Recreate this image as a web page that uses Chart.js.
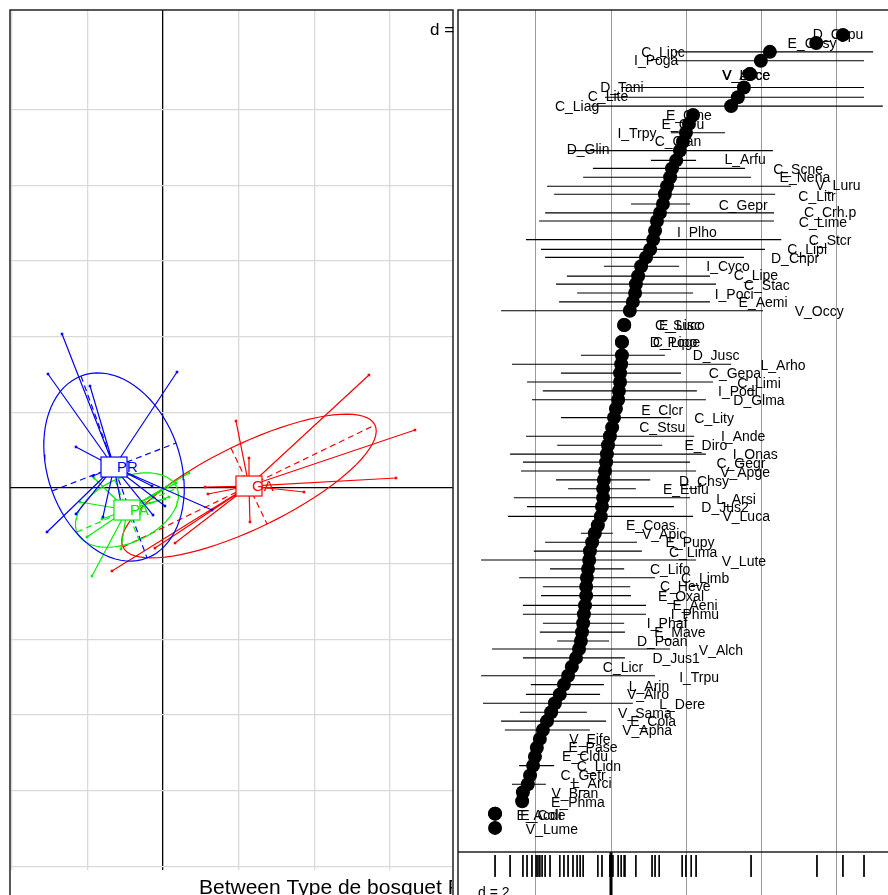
<!DOCTYPE html>
<html>
<head>
<meta charset="utf-8">
<script src="https://cdn.jsdelivr.net/npm/chart.js@4.4.0/dist/chart.umd.min.js"></script>
<style>
  body { margin: 0; background: #fff; width: 888px; height: 895px; overflow: hidden; position: relative; }
  #left { position: absolute; left: 9px; top: 9px; }
  #right { position: absolute; left: 455px; top: 0; }
</style>
</head>
<body>
<canvas id="left" width="446" height="886"></canvas>
<canvas id="right" width="433" height="895"></canvas>
<script>
// ---- left panel: between-group scores, one star + ellipse per group ----
const groupNames = ['PR', 'PA', 'GA'];
const groupColors = ['#0000ff', '#00ee00', '#ff0000'];
const groupCenters = [[-0.647, 0.277], [-0.476, -0.291], [1.136, 0.026]];
const prPoints = [[-1.334, 2.034], [-1.519, 1.506], [-0.964, 1.347], [0.185, 1.532], [-1.149, 0.542],
  [-0.925, 0.159], [-0.145, 0.026], [0.026, -0.238], [-0.132, -0.357], [0.647, -0.291],
  [-1.149, -0.343], [-0.793, -0.383], [-1.532, -0.581], [-0.555, -0.198]];
const paPoints = [[0.343, 0.198], [0.172, 0.066], [0.079, -0.119], [-0.172, -0.198], [-0.911, 0.132],
  [-1.096, -0.185], [-0.806, -0.410], [-1.004, -0.647], [-0.555, -0.806], [-0.938, -1.162], [0.026, -0.145]];
const gaPoints = [[2.721, 1.493], [3.329, 0.766], [3.078, 0.132], [1.863, -0.053], [1.136, 0.396],
  [0.964, 0.885], [1.149, -0.449], [0.555, 0.013], [0.594, -0.079], [0.159, -0.727],
  [-0.106, -0.793], [-0.674, -1.096]];
// ellipse half axes (major vector, minor vector) for each group
const groupAxes = [
  [[0.436, -1.202], [0.819, 0.317]],
  [[0.661, 0.291], [0.159, -0.396]],
  [[1.664, 0.806], [0.238, -0.502]]
];

// ---- right panel: species scores, ranges and labels ----
const species = ['D_Cypu','E_Cosy','C_Lipc','I_Poga','V_Acce','V_Loce','D_Tani','C_Lite','C_Liag','E_Cine',
  'E_Ciru','I_Trpy','C_Clan','D_Glin','L_Arfu','C_Scne','E_Nena','V_Luru','C_Litr','C_Gepr',
  'C_Crh.p','C_Lime','I_Plho','C_Stcr','C_Lipl','D_Chpr','I_Cyco','C_Lipe','C_Stac','I_Poci',
  'E_Aemi','V_Occy','E_Lisc','C_Suco','C_Lipo','D_Poge','D_Jusc','L_Arho','C_Gepa','C_Limi',
  'I_Podi','D_Glma','E_Clcr','C_Lity','C_Stsu','I_Ande','E_Diro','I_Onas','C_Gegr','V_Apge',
  'D_Chsy','E_Eufu','L_Arsi','D_Jus2','V_Luca','E_Coas','V_Apic','E_Pupy','C_Lima','V_Lute',
  'C_Lifo','C_Limb','C_Heve','E_Oxal','E_Aeni','I_Phmu','I_Phaf','E_Mave','D_Poan','V_Alch',
  'D_Jus1','C_Licr','I_Trpu','L_Arin','V_Alro','L_Dere','V_Sama','E_Cola','V_Apha','V_Eife',
  'E_Pase','E_Cldu','C_Lidn','C_Getr','L_Arci','V_Bran','E_Phma','E_Acde','E_Coli','V_Lume'];
const scores = [6.16,5.45,4.22,3.98,3.69,3.69,3.53,3.37,3.19,2.18,
  2.07,1.99,1.91,1.83,1.73,1.62,1.57,1.49,1.43,1.38,
  1.30,1.22,1.17,1.12,1.04,0.93,0.80,0.72,0.66,0.64,
  0.58,0.50,0.35,0.35,0.29,0.29,0.29,0.27,0.24,0.24,
  0.21,0.19,0.13,0.08,0.03,-0.03,-0.08,-0.11,-0.13,-0.16,
  -0.19,-0.21,-0.21,-0.24,-0.27,-0.35,-0.43,-0.50,-0.56,-0.58,
  -0.61,-0.64,-0.66,-0.66,-0.69,-0.72,-0.74,-0.77,-0.80,-0.85,
  -0.93,-1.04,-1.14,-1.25,-1.36,-1.49,-1.59,-1.70,-1.81,-1.89,
  -1.97,-2.02,-2.07,-2.15,-2.21,-2.34,-2.36,-3.08,-3.08,-3.08];
const ranks = [0.1,1.0,2.0,3.0,4.5,4.5,6.0,7.1,8.1,9.1,
  10.1,11.1,12.1,13.1,14.2,15.1,16.1,17.1,18.0,19.1,
  20.1,21.0,22.1,23.1,24.2,25.1,26.1,27.2,28.1,29.1,
  30.1,31.1,32.7,32.7,34.6,34.6,36.1,37.1,38.1,39.1,
  40.1,41.1,42.1,43.1,44.2,45.2,46.2,47.2,48.1,49.1,
  50.1,51.1,52.1,53.1,54.2,55.2,56.1,57.1,58.1,59.1,
  60.1,61.1,62.1,63.1,64.2,65.2,66.2,67.2,68.2,69.1,
  70.1,71.1,72.1,73.1,74.2,75.2,76.2,77.2,78.2,79.2,
  80.2,81.2,82.2,83.3,84.3,85.2,86.2,87.6,87.6,89.2];
const lower = [null,null,1.70,1.70,null,null,0.27,-0.16,-0.53,null,
  null,1.59,null,-1.14,1.06,-0.48,-0.74,-1.70,-1.51,0.53,
  -1.75,-1.91,null,-2.26,-1.86,-1.75,-0.19,-1.17,-1.46,-0.90,
  -1.38,-2.92,null,null,null,null,-0.80,-2.63,-1.33,-2.23,
  -1.81,-2.10,null,-1.33,null,-2.26,-1.43,-2.68,-2.34,-2.39,
  -1.46,-1.14,-2.58,-2.23,-2.74,null,-0.80,-1.75,-2.05,-3.45,
  -1.62,-2.44,-1.81,-1.86,-2.34,-2.34,-1.81,-1.89,-1.43,-3.16,
  -2.34,null,-3.45,-2.13,-2.26,-3.40,-2.42,-2.92,-2.82,null,
  null,null,-2.44,null,-2.63,null,null,null,null,null];
const upper = [null,null,6.96,6.72,null,null,6.72,6.72,7.22,null,
  null,3.03,null,4.30,2.26,3.56,3.72,4.78,4.36,2.10,
  4.33,4.33,null,4.52,4.09,3.53,1.81,2.63,2.79,2.18,
  2.63,4.04,null,null,null,null,1.43,3.19,1.86,2.71,
  2.28,2.52,null,1.59,null,2.21,1.36,2.52,2.10,2.26,
  1.04,0.66,2.10,1.67,2.18,null,0.05,0.69,0.82,2.26,
  0.35,1.17,0.51,0.53,0.93,0.93,0.35,0.37,-0.05,1.57,
  0.37,null,1.17,-0.19,-0.29,0.58,-0.64,-0.13,-0.56,null,
  null,null,-1.51,null,-1.73,null,null,null,null,null];
const labelX = [6.03,5.34,1.38,1.20,3.59,3.59,0.29,-0.08,-0.90,2.07,
  1.91,0.69,1.78,-0.61,3.56,4.97,5.15,6.03,5.47,3.51,
  5.82,5.63,2.28,5.82,5.21,4.89,3.11,3.85,4.14,3.27,
  4.04,5.53,1.83,1.83,1.70,1.70,2.79,4.57,3.29,3.93,
  3.37,3.93,1.36,2.74,1.36,3.51,2.52,3.83,3.45,3.56,
  2.47,1.99,3.32,3.03,3.59,1.06,1.41,2.10,2.18,3.53,
  1.57,2.50,1.97,1.86,2.23,2.23,1.49,1.83,1.36,2.92,
  1.73,0.32,2.34,1.01,0.98,1.89,0.90,1.12,0.96,-0.56,
  -0.48,-0.69,-0.32,-0.74,-0.51,-0.96,-0.88,-1.86,-1.86,-1.57];
const labelY = [0.1,1.1,2.1,3.1,4.7,4.7,6.1,7.1,8.2,9.2,
  10.2,11.2,12.2,13.0,14.2,15.3,16.2,17.1,18.3,19.3,
  20.1,21.2,22.4,23.3,24.3,25.3,26.2,27.2,28.3,29.3,
  30.2,31.2,32.8,32.8,34.7,34.7,36.2,37.3,38.2,39.3,
  40.2,41.2,42.4,43.3,44.3,45.3,46.3,47.3,48.3,49.3,
  50.3,51.3,52.4,53.3,54.3,55.3,56.3,57.2,58.3,59.3,
  60.2,61.3,62.2,63.3,64.3,65.3,66.3,67.3,68.3,69.3,
  70.2,71.2,72.4,73.4,74.3,75.4,76.4,77.3,78.3,79.3,
  80.2,81.3,82.4,83.4,84.3,85.4,86.4,87.9,87.9,89.4];
const rugValues = [-3.08,-2.68,-2.34,-2.23,-2.10,-1.99,-1.94,-1.89,-1.83,-1.75,
  -1.62,-1.36,-1.25,-1.14,-1.01,-0.90,-0.82,-0.74,-0.35,-0.24,
  -0.03,0.05,0.19,0.27,0.35,0.37,0.66,1.09,1.17,1.28,
  1.89,1.99,2.13,2.26,3.72,5.47,6.16,6.72];

Chart.defaults.font.family = '"Liberation Sans", Arial, sans-serif';
Chart.defaults.animation = false;

const gap = {x: NaN, y: NaN};
const hidden = {display: false};

// ---------- left chart ----------
function ellipse(c, a, b) {
  const pts = [];
  for (let k = 0; k <= 80; k++) {
    const t = k / 80 * 2 * Math.PI;
    pts.push({x: c[0] + Math.cos(t) * a[0] + Math.sin(t) * b[0], y: c[1] + Math.cos(t) * a[1] + Math.sin(t) * b[1]});
  }
  return pts;
}

const groupPoints = [prPoints, paPoints, gaPoints];
const leftSets = [];
groupNames.forEach((g, i) => {
  const c = groupCenters[i], col = groupColors[i];
  const [a, b] = groupAxes[i];
  const star = [];
  groupPoints[i].forEach(p => { star.push({x: c[0], y: c[1]}, {x: p[0], y: p[1]}, gap); });
  leftSets.push({data: star, showLine: true, borderColor: col, borderWidth: 1.2, pointRadius: 0});
  leftSets.push({data: ellipse(c, a, b), showLine: true, borderColor: col, borderWidth: 1.2, pointRadius: 0});
  leftSets.push({
    data: [{x: c[0] - a[0], y: c[1] - a[1]}, {x: c[0] + a[0], y: c[1] + a[1]}, gap,
           {x: c[0] - b[0], y: c[1] - b[1]}, {x: c[0] + b[0], y: c[1] + b[1]}],
    showLine: true, borderColor: col, borderWidth: 1.2, borderDash: [6, 4], pointRadius: 0
  });
  leftSets.push({data: groupPoints[i].map(p => ({x: p[0], y: p[1]})), pointStyle: 'rect',
    pointRadius: 1.8, backgroundColor: col, borderColor: col, borderWidth: 0});
});

const leftDecor = {
  id: 'leftDecor',
  afterDatasetsDraw(chart) {
    const {ctx, scales: {x, y}} = chart;
    ctx.save();
    ctx.font = '15px "Liberation Sans", Arial, sans-serif';
    ctx.textBaseline = 'middle';
    groupNames.forEach((g, i) => {
      const px = x.getPixelForValue(groupCenters[i][0]);
      const py = y.getPixelForValue(groupCenters[i][1]);
      ctx.fillStyle = '#fff';
      ctx.strokeStyle = groupColors[i];
      ctx.lineWidth = 1.2;
      ctx.fillRect(px - 13, py - 10, 26, 20);
      ctx.strokeRect(px - 13, py - 10, 26, 20);
      ctx.fillStyle = groupColors[i];
      ctx.fillText(g, px + 3, py + 1);
    });
    ctx.restore();
  },
  afterDraw(chart) {
    const {ctx, chartArea: ca} = chart;
    ctx.save();
    ctx.strokeStyle = '#222';
    ctx.lineWidth = 1.5;
    ctx.beginPath();
    ctx.moveTo(ca.left, chart.height); ctx.lineTo(ca.left, ca.top);
    ctx.lineTo(ca.right, ca.top); ctx.lineTo(ca.right, chart.height);
    ctx.stroke();
    ctx.fillStyle = '#000';
    ctx.font = '17px "Liberation Sans", Arial, sans-serif';
    ctx.textBaseline = 'alphabetic';
    ctx.fillText('d = 1', 421, 26);
    ctx.beginPath();
    ctx.rect(0, 0, ca.right - 1, chart.height);
    ctx.clip();
    ctx.font = '21px "Liberation Sans", Arial, sans-serif';
    ctx.fillText('Between Type de bosquet PCA', 190, 885);
    ctx.restore();
  }
};

new Chart(document.getElementById('left'), {
  type: 'scatter',
  data: {datasets: leftSets},
  options: {
    responsive: false,
    layout: {autoPadding: false, padding: {left: 1, top: 1, right: 2, bottom: 25}},
    plugins: {legend: hidden, tooltip: {enabled: false}},
    scales: {
      x: {
        type: 'linear', min: -2.021, max: 3.831,
        ticks: {display: false, stepSize: 1, includeBounds: false},
        grid: {drawTicks: false, color: c => c.tick.value === 0 ? '#000' : '#d9d9d9', lineWidth: 1.3},
        border: hidden
      },
      y: {
        type: 'linear', min: -5.046, max: 6.314,
        ticks: {display: false, stepSize: 1, includeBounds: false},
        afterBuildTicks: axis => { axis.ticks = axis.ticks.filter(t => Math.abs(t.value) <= 5); },
        grid: {drawTicks: false, color: c => c.tick.value === 0 ? '#000' : '#d9d9d9', lineWidth: 1.3},
        border: hidden
      }
    }
  },
  plugins: [leftDecor]
});

// ---------- right chart ----------
const rugTop = 91.9, rugEnd = 94.7, yBottom = 96.74;
const bars = [];
species.forEach((s, i) => {
  if (lower[i] !== null) bars.push({x: lower[i], y: ranks[i]}, {x: upper[i], y: ranks[i]}, gap);
});
const rug = [];
rugValues.forEach(v => { if (v !== 0) rug.push({x: v, y: rugTop + 0.35}, {x: v, y: rugEnd}, gap); });

const rightDecor = {
  id: 'rightDecor',
  beforeDatasetsDraw(chart) {
    const {ctx, scales: {x, y}} = chart;
    ctx.save();
    ctx.font = '14px "Liberation Sans", Arial, sans-serif';
    ctx.fillStyle = '#000';
    ctx.textAlign = 'center';
    ctx.textBaseline = 'middle';
    species.forEach((s, i) => ctx.fillText(s, x.getPixelForValue(labelX[i]), y.getPixelForValue(labelY[i])));
    ctx.restore();
  },
  afterDraw(chart) {
    const {ctx, chartArea: ca, scales: {y}} = chart;
    const sep = y.getPixelForValue(rugTop);
    ctx.save();
    ctx.strokeStyle = '#222';
    ctx.lineWidth = 1.5;
    ctx.beginPath();
    ctx.moveTo(ca.left, chart.height); ctx.lineTo(ca.left, ca.top); ctx.lineTo(ca.right, ca.top);
    ctx.moveTo(ca.left, sep); ctx.lineTo(ca.right, sep);
    ctx.stroke();
    ctx.fillStyle = '#000';
    ctx.font = '14px "Liberation Sans", Arial, sans-serif';
    ctx.fillText('d = 2', 23, 897);
    ctx.restore();
  }
};

new Chart(document.getElementById('right'), {
  type: 'scatter',
  data: {
    datasets: [
      {data: scores.map((v, i) => ({x: v, y: ranks[i]})), pointRadius: 7, backgroundColor: '#000', borderWidth: 0},
      {data: bars, showLine: true, borderColor: '#000', borderWidth: 1.1, pointRadius: 0},
      {data: rug, showLine: true, borderColor: '#000', borderWidth: 1, pointRadius: 0},
      {data: [{x: 0, y: rugTop}, {x: 0, y: yBottom}], showLine: true, borderColor: '#000', borderWidth: 3, pointRadius: 0}
    ]
  },
  options: {
    responsive: false,
    layout: {autoPadding: false, padding: {left: 3, top: 10, right: 0, bottom: 0}},
    plugins: {legend: hidden, tooltip: {enabled: false}},
    scales: {
      x: {
        type: 'linear', min: -4.064, max: 7.357,
        ticks: {display: false, stepSize: 2, includeBounds: false},
        grid: {drawTicks: false, color: c => c.tick.value <= -4 ? 'rgba(0,0,0,0)' : '#9a9a9a', lineWidth: 1},
        border: hidden
      },
      y: {
        type: 'linear', reverse: true, min: -2.7, max: yBottom,
        ticks: {display: false},
        grid: {display: false, drawTicks: false},
        border: hidden
      }
    }
  },
  plugins: [rightDecor]
});
</script>
</body>
</html>
